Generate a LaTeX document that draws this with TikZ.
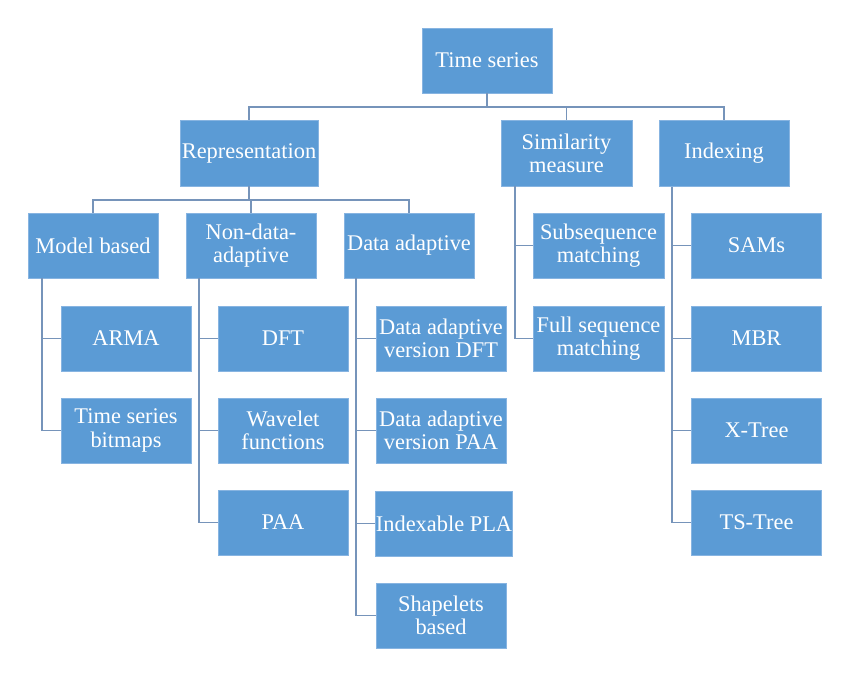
\documentclass[tikz,border=0pt]{standalone}
\usepackage{fontspec}
\setmainfont{Liberation Serif}
\definecolor{boxfill}{RGB}{91,155,213}
\definecolor{boxedge}{RGB}{135,180,225}
\definecolor{linkcol}{RGB}{118,148,186}
\begin{document}
\begin{tikzpicture}[x=0.5pt,y=-0.5pt,
  box/.style={rectangle,fill=boxfill,draw=boxedge,line width=0.4pt,
    minimum width=65pt,minimum height=32.5pt,inner sep=0pt,
    text=white,align=center,font=\fontsize{11.2}{11.6}\selectfont},
  link/.style={draw=linkcol,line width=0.8pt}]
\useasboundingbox[fill=white] (0,0) rectangle (850,677);
% nodes
\node[box] (ts) at (487,60.5) {Time series};
\node[box,minimum width=69pt,minimum height=33pt] (rep) at (249,153) {Representation};
\node[box,minimum width=65.5pt,minimum height=33pt] (sim) at (566.5,153) {Similarity\\measure};
\node[box,minimum height=33pt] (idx) at (724,153.5) {Indexing};
\node[box] (mb) at (93,245.5) {Model based};
\node[box] (nda) at (251,245.5) {Non-data-\\adaptive};
\node[box] (da) at (409,245.5) {Data adaptive};
\node[box] (arma) at (126,338.5) {ARMA};
\node[box] (bmp) at (126,430.5) {Time series\\bitmaps};
\node[box] (dft) at (283,338.5) {DFT};
\node[box] (wav) at (283,430.5) {Wavelet\\functions};
\node[box] (paa) at (283,522.5) {PAA};
\node[box] (dadft) at (441,338.5) {Data adaptive\\version DFT};
\node[box] (dapaa) at (441,430.5) {Data adaptive\\version PAA};
\node[box,minimum width=68pt] (pla) at (444,523.5) {Indexable PLA};
\node[box] (shp) at (441,615.5) {Shapelets\\based};
\node[box,minimum width=65.5pt] (sub) at (598.5,245.5) {Subsequence\\matching};
\node[box,minimum width=65.5pt] (full) at (598.5,338.5) {Full sequence\\matching};
\node[box] (sams) at (756.5,245.5) {SAMs};
\node[box] (mbr) at (756.5,338.5) {MBR};
\node[box] (xt) at (756.5,430.5) {X-Tree};
\node[box] (tst) at (756.5,522.5) {TS-Tree};
% bus coordinates
\coordinate (b1) at (487,107);
\coordinate (b2) at (249,200);
\coordinate (tmb) at (42,0);
\coordinate (tnda) at (199,0);
\coordinate (tda) at (356,0);
\coordinate (tsim) at (515,0);
\coordinate (tidx) at (672,0);
% top level
\draw[link] (ts.south) -- (ts.south |- b1);
\draw[link] (rep.north) |- (idx.north |- b1) -- (idx.north);
\draw[link] (sim.north) -- (sim.north |- b1);
% representation level
\draw[link] (rep.south) -- (rep.south |- b2);
\draw[link] (mb.north) |- (da.north |- b2) -- (da.north);
\draw[link] (nda.north) -- (nda.north |- b2);
% model based
\draw[link] (tmb |- mb.south) |- (bmp.west);
\draw[link] (tmb |- arma.west) -- (arma.west);
% non-data-adaptive
\draw[link] (tnda |- nda.south) |- (paa.west);
\draw[link] (tnda |- dft.west) -- (dft.west);
\draw[link] (tnda |- wav.west) -- (wav.west);
% data adaptive
\draw[link] (tda |- da.south) |- (shp.west);
\draw[link] (tda |- dadft.west) -- (dadft.west);
\draw[link] (tda |- dapaa.west) -- (dapaa.west);
\draw[link] (tda |- pla.west) -- (pla.west);
% similarity
\draw[link] (tsim |- sim.south) |- (full.west);
\draw[link] (tsim |- sub.west) -- (sub.west);
% indexing
\draw[link] (tidx |- idx.south) |- (tst.west);
\draw[link] (tidx |- sams.west) -- (sams.west);
\draw[link] (tidx |- mbr.west) -- (mbr.west);
\draw[link] (tidx |- xt.west) -- (xt.west);
\end{tikzpicture}
\end{document}
